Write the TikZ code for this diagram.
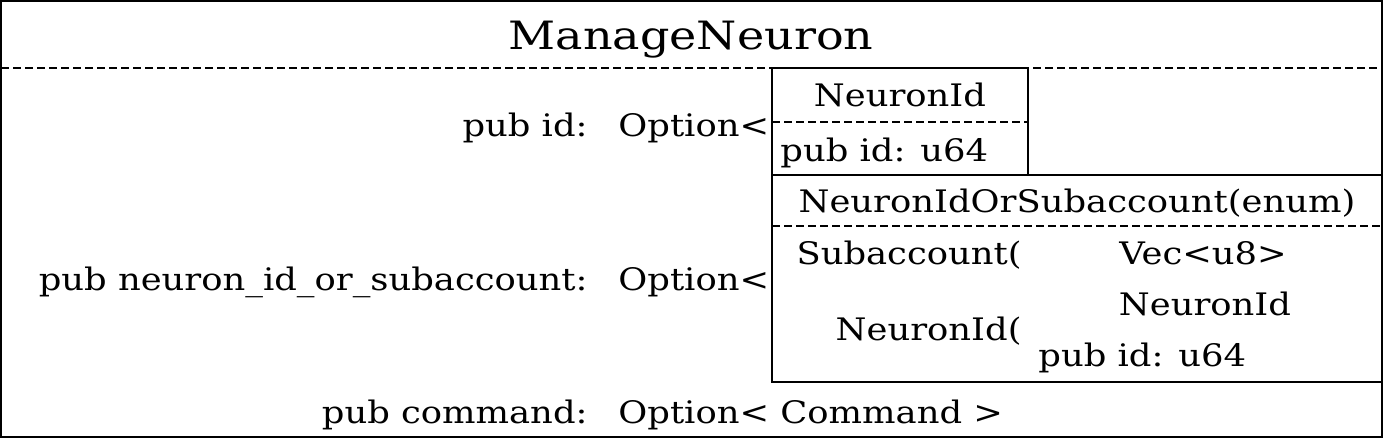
\documentclass[tikz,border=0pt]{standalone}
\usepackage{fontspec}
\setmainfont{DejaVu Serif}[FakeStretch=1.14]
\newfontfamily\titlefont{DejaVu Serif}[FakeStretch=1.18]
\usetikzlibrary{calc}

\begin{document}
\begin{tikzpicture}[x=0.5pt,y=-0.5pt,
    txt/.style={inner sep=0pt,font=\fontsize{15.5}{19}\selectfont},
    sep/.style={line width=0.8pt,dash pattern=on 4pt off 2pt},
    frame/.style={line width=1pt}]
  \useasboundingbox (0,0) rectangle (1383,438);
  \coordinate (TL) at (1,1);
  \coordinate (BR) at (1382,437);
  \coordinate (A1) at (772,68);
  \coordinate (B1) at (1028,175);
  \coordinate (A2) at (772,175);
  \coordinate (B2) at (1382,382);
  % outer struct
  \draw[frame] (TL) rectangle (BR);
  \draw[sep] (1,68) -- (1382,68);
  \node[inner sep=0pt,font=\titlefont\fontsize{19.5}{24}\selectfont,anchor=base] (title) at (691,50) {ManageNeuron};
  % NeuronId box
  \draw[frame] (A1) rectangle (B1);
  \draw[frame] (B1) -- (1382,175);
  \draw[sep] (772,122) -- (1028,122);
  \node[txt,anchor=base] (nid1) at (900,107) {NeuronId};
  \node[txt,anchor=base west] (nidf1) at (780,162) {pub id: u64};
  % NeuronIdOrSubaccount box
  \draw[frame] (A2) rectangle (B2);
  \draw[sep] (772,226) -- (1382,226);
  \node[txt,anchor=base] (enum) at (1077,213) {NeuronIdOrSubaccount(enum)};
  \node[txt,anchor=base east] (sub) at (1022,265) {Subaccount(};
  \node[txt,anchor=base] (vec) at (1203,265) {Vec<u8>};
  \node[txt,anchor=base] (nid2) at (1205,316) {NeuronId};
  \node[txt,anchor=base east] (nidv) at (1022,341) {NeuronId(};
  \node[txt,anchor=base west] (nidf2) at (1038,367) {pub id: u64};
  % fields
  \node[txt,anchor=base east] (f1) at (588,137) {pub id:};
  \node[txt,anchor=base west] (o1) at (618,137) {Option<};
  \node[txt,anchor=base east] (f2) at (588,291) {pub neuron\_id\_or\_subaccount:};
  \node[txt,anchor=base west] (o2) at (618,291) {Option<};
  \node[txt,anchor=base east] (f3) at (588,423) {pub command:};
  \node[txt,anchor=base west] (o3) at (618,423) {Option<};
  \node[txt,anchor=base west] (cmd) at (780,423) {Command >};
\end{tikzpicture}
\end{document}
